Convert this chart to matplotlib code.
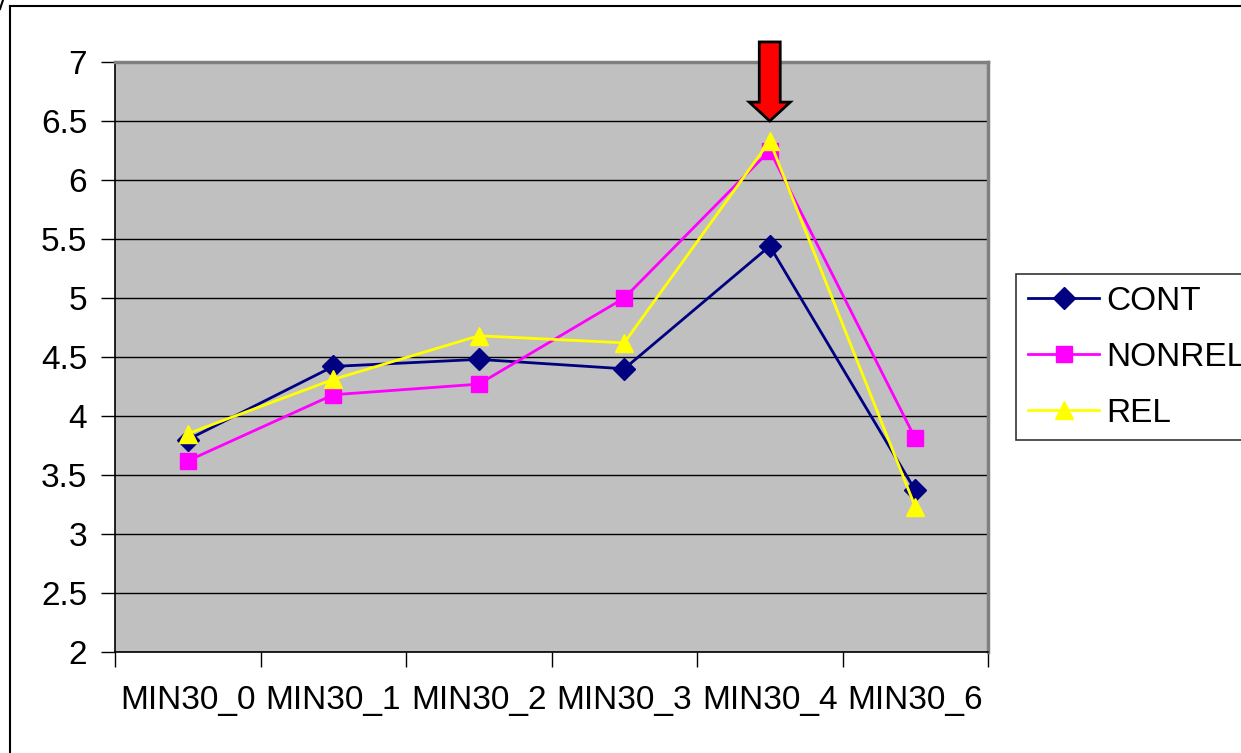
import matplotlib
matplotlib.use("Agg")
import matplotlib.pyplot as plt
from matplotlib.lines import Line2D
from matplotlib.patches import Polygon
import numpy as np

plt.rcParams['font.family'] = ['Liberation Sans', 'DejaVu Sans']

categories = ["MIN30_0", "MIN30_1", "MIN30_2", "MIN30_3", "MIN30_4", "MIN30_6"]
cont = [3.80, 4.42, 4.48, 4.40, 5.44, 3.37]
nonrel = [3.62, 4.18, 4.27, 5.00, 6.25, 3.81]
rel = [3.85, 4.31, 4.68, 4.62, 6.33, 3.23]
y_ticks = [2, 2.5, 3, 3.5, 4, 4.5, 5, 5.5, 6, 6.5, 7]

W, H = 1241, 753
FS = 24
fig = plt.figure(figsize=(W / 100, H / 100), dpi=100)
fig.patch.set_facecolor("white")

# plot area in pixels: left 115, right 988, top 62, bottom 652
ax = fig.add_axes([115 / W, 1 - 652 / H, (988 - 115) / W, (652 - 62) / H])
ax.set_facecolor("#C0C0C0")

x = np.arange(len(categories))
ax.plot(x, cont, color="#000080", lw=2, marker="D", ms=11, label="CONT", zorder=3)
ax.plot(x, nonrel, color="#FF00FF", lw=2, marker="s", ms=11, label="NONREL", zorder=4)
ax.plot(x, rel, color="#FFFF00", lw=2, marker="^", ms=13, label="REL", zorder=5)

ax.set_xlim(-0.5, len(categories) - 0.5)
ax.set_ylim(2, 7)
ax.set_yticks(y_ticks)
ax.set_yticklabels([f"{v:g}" for v in y_ticks])
ax.yaxis.grid(True, color="black", lw=1)
ax.set_axisbelow(True)

# category boundaries carry the tick marks; labels sit at the centers
ax.set_xticks(np.arange(-0.5, len(categories), 1.0))
ax.set_xticklabels([])
ax.set_xticks(x, minor=True)
ax.set_xticklabels(categories, minor=True)
ax.tick_params(axis="x", which="major", direction="out", length=11, width=1, color="black")
ax.tick_params(axis="x", which="minor", length=0, pad=24, labelsize=FS)
ax.tick_params(axis="y", direction="out", length=10, width=1, pad=10, labelsize=FS)

for side in ("left", "bottom"):
    ax.spines[side].set_color("black")
    ax.spines[side].set_linewidth(1.2)
for side in ("top", "right"):
    ax.spines[side].set_color("#808080")
    ax.spines[side].set_linewidth(2.5)

# downward red arrow marking the MIN30_4 peak
xc = 4
tip, head, top = 6.5, 6.66, 7.17
sw, hw = 0.072, 0.141
arrow = Polygon([(xc - sw, top), (xc + sw, top), (xc + sw, head), (xc + hw, head),
                 (xc, tip), (xc - hw, head), (xc - sw, head)],
                closed=True, facecolor="#FF0000", edgecolor="black", lw=2,
                clip_on=False, zorder=6)
ax.add_patch(arrow)

leg = fig.legend(loc="upper left", bbox_to_anchor=(1016 / W, 1 - 274 / H),
                 fontsize=FS, frameon=True, fancybox=False, handlelength=2.15,
                 handletextpad=0.2, labelspacing=0.75, borderpad=0.35,
                 borderaxespad=0)
leg.get_frame().set_edgecolor("black")
leg.get_frame().set_linewidth(1.2)

# outer chart border
fig.add_artist(Line2D([9.5 / W, 9.5 / W], [0, 1 - 6 / H], color="black", lw=1.5))
fig.add_artist(Line2D([9.5 / W, 1], [1 - 6 / H, 1 - 6 / H], color="black", lw=1.5))
fig.add_artist(Line2D([0, 3 / W], [1 - 9 / H, 1], color="black", lw=1.5))

fig.savefig("out.png", dpi=100, facecolor="white")
